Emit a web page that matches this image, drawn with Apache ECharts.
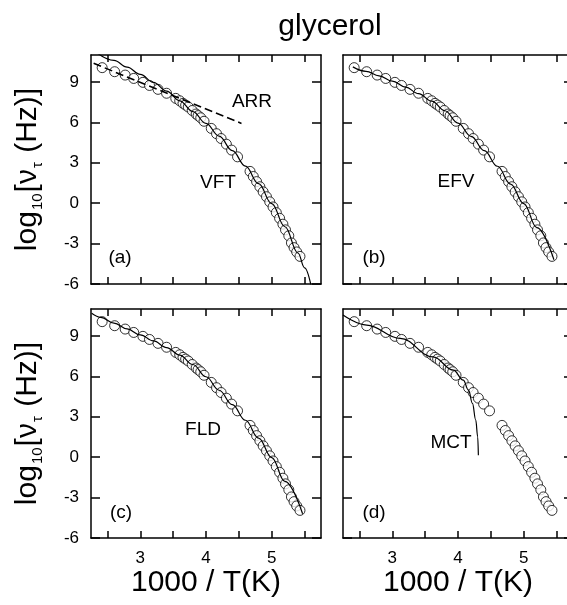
<!DOCTYPE html>
<html>
<head>
<meta charset="utf-8">
<script src="https://cdn.jsdelivr.net/npm/echarts@6/dist/echarts.min.js"></script>
<style>
html, body { margin: 0; padding: 0; background: #fff; }
#main { width: 567px; height: 605px; }
</style>
</head>
<body>
<div id="main"></div>
<script>
// measured relaxation data, 1000/T vs log10(nu_tau)
var invT = [2.42, 2.61, 2.77, 2.90, 3.04, 3.14, 3.27, 3.40, 3.54, 3.60, 3.65, 3.69, 3.73, 3.79, 3.85, 3.88, 3.92, 3.97,
    4.08, 4.16, 4.23, 4.31, 4.39, 4.48,
    4.67, 4.72, 4.77, 4.82, 4.87, 4.92, 4.97, 5.02, 5.07, 5.12, 5.17, 5.21, 5.26, 5.30, 5.34, 5.38, 5.43];
var logNu = [10.06, 9.76, 9.51, 9.26, 8.97, 8.74, 8.45, 8.16, 7.78, 7.60, 7.41, 7.28, 7.14, 6.88, 6.62, 6.50, 6.34, 6.08,
    5.55, 5.16, 4.80, 4.38, 3.94, 3.44,
    2.36, 1.98, 1.60, 1.22, 0.84, 0.48, 0.10, -0.28, -0.70, -1.12, -1.56, -1.98, -2.42, -2.95, -3.30, -3.62, -3.95];

// fit curves
var arrX = [2.29, 4.54];
var arrY = [10.38, 5.92];
var vftX = [2.33, 2.6, 2.8, 3.0, 3.2, 3.4, 3.6, 3.8, 4.0, 4.2, 4.4, 4.6, 4.8, 5.0, 5.2, 5.4, 5.5, 5.6];
var vftY = [11.2, 10.6, 10.1, 9.56, 8.97, 8.32, 7.6, 6.8, 5.92, 4.98, 3.9, 2.75, 1.45, -0.03, -1.75, -3.7, -4.8, -6.15];
var efvX = [2.40, 2.6, 2.8, 3.0, 3.2, 3.4, 3.6, 3.8, 4.0, 4.2, 4.4, 4.6, 4.8, 5.0, 5.2, 5.46];
var efvY = [10.12, 9.79, 9.45, 9.06, 8.62, 8.13, 7.57, 6.86, 5.95, 4.96, 3.90, 2.74, 1.42, -0.03, -1.82, -4.2];
var fldX = [2.26, 2.4, 2.6, 2.8, 3.0, 3.2, 3.4, 3.6, 3.8, 4.0, 4.2, 4.4, 4.6, 4.8, 5.0, 5.2, 5.47];
var fldY = [10.68, 10.38, 9.95, 9.52, 9.08, 8.63, 8.14, 7.58, 6.88, 5.97, 4.97, 3.9, 2.74, 1.42, -0.03, -1.8, -4.2];
var mctX = [2.25, 2.61, 3.12, 3.62, 3.93, 4.08, 4.16, 4.22, 4.27, 4.30, 4.31];
var mctY = [10.55, 9.81, 8.82, 7.45, 6.46, 5.72, 4.98, 3.99, 2.75, 1.51, 0.14];

var xTicks = [2.5, 3, 3.5, 4, 4.5, 5, 5.5];
var xLabels = [3, 4, 5];
var yTicks = [-6, -3, 0, 3, 6, 9];

function zip(xs, ys) {
    return xs.map(function (x, i) { return [x, ys[i]]; });
}

var FONT = '"Liberation Sans", Arial, Helvetica, sans-serif';
var chart = echarts.init(document.getElementById('main'));

var panels = [
    { left: 91, top: 55, showX: false, showY: true },
    { left: 343, top: 55, showX: false, showY: false },
    { left: 91, top: 309, showX: true, showY: true },
    { left: 343, top: 309, showX: true, showY: false }
];
var fits = [
    [{ d: zip(vftX, vftY) }, { d: zip(arrX, arrY), dashed: true }],
    [{ d: zip(efvX, efvY) }],
    [{ d: zip(fldX, fldY) }],
    [{ d: zip(mctX, mctY) }]
];

var axisLine = { show: true, onZero: false, lineStyle: { color: '#000', width: 1.5 } };

var grid = [], xAxis = [], yAxis = [], series = [];
panels.forEach(function (p, i) {
    // panel (b)/(d) run past the right edge of the picture, so no bound clamping
    grid.push({ left: p.left, top: p.top, width: 230, height: 229, outerBoundsMode: 'none', containLabel: false });
    // bottom + top x axes
    [false, true].forEach(function (isTop) {
        xAxis.push({
            type: 'value', gridIndex: i, position: isTop ? 'top' : 'bottom',
            min: 2.25, max: 5.75,
            axisLine: axisLine,
            axisTick: { inside: true, length: 7, customValues: xTicks, lineStyle: { color: '#000', width: 1.5 } },
            axisLabel: {
                show: p.showX && !isTop, customValues: xLabels, margin: 12,
                color: '#000', fontSize: 17, fontFamily: FONT
            },
            splitLine: { show: false },
            name: (p.showX && !isTop) ? '1000 / T(K)' : '',
            nameLocation: 'middle', nameGap: 27,
            nameTextStyle: { color: '#000', fontSize: 30, fontFamily: FONT }
        });
    });
    // left + right y axes
    [false, true].forEach(function (isRight) {
        yAxis.push({
            type: 'value', gridIndex: i, position: isRight ? 'right' : 'left',
            min: -6, max: 11,
            axisLine: axisLine,
            axisTick: { inside: true, length: 9, customValues: yTicks, lineStyle: { color: '#000', width: 1.5 } },
            axisLabel: {
                show: p.showY && !isRight, customValues: yTicks, margin: 12,
                color: '#000', fontSize: 17, fontFamily: FONT
            },
            splitLine: { show: false },
            name: (p.showY && !isRight) ? '{m|log}{s|10}{m|[ν}{s|τ}{m| (Hz)]}' : '',
            nameLocation: 'middle', nameGap: 46, nameRotate: 90,
            nameTextStyle: {
                color: '#000', fontFamily: FONT,
                rich: {
                    m: { fontSize: 30, lineHeight: 35, fontFamily: FONT, color: '#000', verticalAlign: 'middle' },
                    s: { fontSize: 15, lineHeight: 35, fontFamily: FONT, color: '#000', verticalAlign: 'bottom', padding: [10, 1, 0, 1] }
                }
            }
        });
    });

    series.push({
        type: 'scatter', xAxisIndex: 2 * i, yAxisIndex: 2 * i,
        data: zip(invT, logNu), symbol: 'circle', symbolSize: 10,
        itemStyle: { color: '#fff', borderColor: '#000', borderWidth: 1 },
        z: 2, silent: true
    });
    fits[i].forEach(function (f) {
        series.push({
            type: 'line', xAxisIndex: 2 * i, yAxisIndex: 2 * i,
            data: f.d, showSymbol: false, smooth: f.dashed ? false : 0.4, smoothMonotone: 'x',
            lineStyle: { color: '#000', width: f.dashed ? 1.6 : 1.2, type: f.dashed ? [8, 4] : 'solid' },
            z: 3, silent: true, clip: true
        });
    });
});

function txt(x, y, s) {
    return {
        type: 'text', x: x, y: y, z: 10,
        style: { text: s, fill: '#000', fontSize: 19, fontFamily: FONT, align: 'center', verticalAlign: 'middle' }
    };
}

chart.setOption({
    animation: false,
    backgroundColor: '#fff',
    title: {
        text: 'glycerol', left: 325, top: 7, textAlign: 'center',
        textStyle: { color: '#000', fontSize: 30, fontWeight: 'normal', fontFamily: FONT }
    },
    grid: grid,
    xAxis: xAxis,
    yAxis: yAxis,
    series: series,
    graphic: [
        txt(252, 102, 'ARR'), txt(218, 183, 'VFT'), txt(120, 258, '(a)'),
        txt(456, 182, 'EFV'), txt(374, 258, '(b)'),
        txt(203, 430, 'FLD'), txt(121, 513, '(c)'),
        txt(451, 443, 'MCT'), txt(374, 513, '(d)')
    ]
});
</script>
</body>
</html>
